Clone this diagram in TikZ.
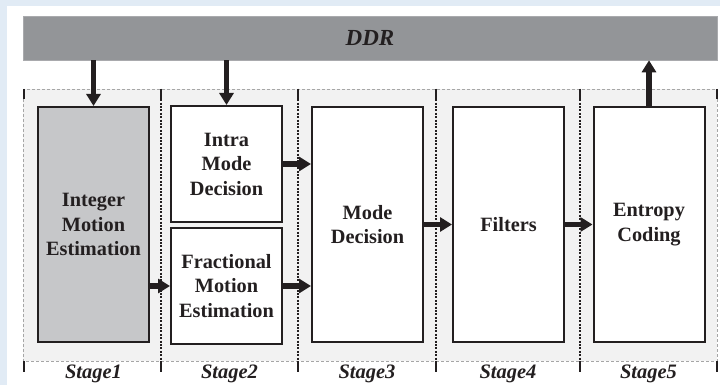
\documentclass[tikz,border=0pt]{standalone}
\usepackage{fontspec}
\setmainfont{Liberation Serif}
\usetikzlibrary{arrows.meta}
\definecolor{pagebg}{RGB}{225,235,245}
\definecolor{ddrgray}{RGB}{147,149,152}
\definecolor{imegray}{RGB}{198,199,201}
\definecolor{stagefill}{RGB}{242,242,242}
\definecolor{ink}{RGB}{35,31,32}
\begin{document}
\begin{tikzpicture}[x=1pt,y=-1pt,
  blk/.style={draw=ink, line width=2pt, fill=white, align=center,
    font=\fontsize{20.3}{24.5}\selectfont\bfseries, text=ink,
    minimum width=111pt, inner sep=0pt},
  tall/.style={blk, minimum height=235pt},
  half/.style={blk, minimum height=116pt},
  arr/.style={draw=ink, line width=5.5pt, -{Triangle[length=12pt,width=14pt]}},
  divider/.style={draw=ink, line width=2.2pt, dash pattern=on 2pt off 1.4pt},
  tick/.style={draw=ink, line width=2.5pt},
  stagelbl/.style={font=\fontsize{20.5}{22}\selectfont\bfseries\itshape, text=ink, inner sep=0pt}
]
\useasboundingbox (0,0) rectangle (720,385);
% page background
\fill[pagebg] (0,0) rectangle (720,385);
\fill[white] (7,6) rectangle (720,385);

% memory bar
\node[fill=ddrgray, draw=ddrgray!80!white, line width=0.6pt, minimum width=694pt, minimum height=44pt,
  font=\fontsize{23}{24}\selectfont\bfseries\itshape, text=ink] (ddr) at (370,38) {DDR};

% pipeline area
\fill[stagefill] (23,89) rectangle (717,361);
\draw[gray!70, line width=0.8pt, dash pattern=on 3pt off 2pt] (23,89) rectangle (717,361);
\foreach \x in {161,298,436,580} \draw[divider] (\x,89) -- (\x,361);
\foreach \x in {24,161,298,436,580,717} {
  \draw[tick] (\x,89) -- (\x,99);
  \draw[tick] (\x,361) -- (\x,372);
}

% processing blocks
\node[tall, fill=imegray] (ime) at (93.5,224.5) {Integer\\Motion\\Estimation};
\node[half] (intra) at (226.5,164) {Intra\\Mode\\Decision};
\node[half] (fme) at (226.5,286) {Fractional\\Motion\\Estimation};
\node[tall] (md) at (367.5,224.5) {Mode\\Decision};
\node[tall] (filt) at (508.5,224.5) {Filters};
\node[tall] (ec) at (649,224.5) {Entropy\\Coding};

% data flow
\draw[arr] (ddr.south -| ime) -- (ime.north);
\draw[arr] (ddr.south -| intra) -- (intra.north);
\draw[arr] (ec.north) -- (ec.north |- ddr.south);
\draw[arr] (ime.east |- fme) -- (fme.west);
\draw[arr] (intra.east) -- (intra.east -| md.west);
\draw[arr] (fme.east) -- (fme.east -| md.west);
\draw[arr] (md.east) -- (filt.west);
\draw[arr] (filt.east) -- (ec.west);

% stage labels
\node[stagelbl] (s1) at (93.5,374) {Stage1};
\node[stagelbl] (s2) at (229.5,374) {Stage2};
\node[stagelbl] (s3) at (367,374) {Stage3};
\node[stagelbl] (s4) at (508,374) {Stage4};
\node[stagelbl] (s5) at (648.5,374) {Stage5};
\end{tikzpicture}
\end{document}
